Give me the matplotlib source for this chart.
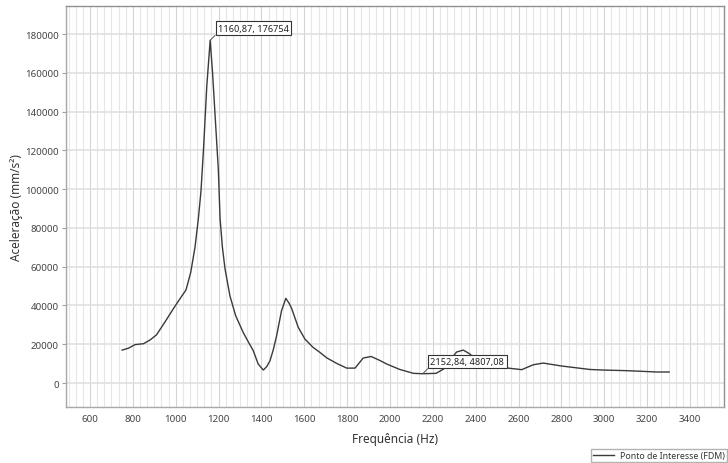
import matplotlib
matplotlib.use("Agg")
import matplotlib.pyplot as plt
from matplotlib.ticker import MultipleLocator
from matplotlib.lines import Line2D

plt.rcParams['font.family'] = ['Noto Sans', 'DejaVu Sans']

freq = [750, 780, 810, 850, 880, 910, 950, 990, 1020, 1048, 1070, 1090, 1105,
        1118, 1130, 1145, 1160.87, 1172, 1183, 1199, 1207, 1218, 1230, 1253,
        1280, 1315, 1340, 1362, 1385, 1409, 1425, 1440, 1455, 1471, 1494, 1514,
        1530, 1541, 1572, 1603, 1640, 1673, 1705, 1750, 1798, 1837, 1875, 1912,
        1950, 1985, 2046, 2110, 2152.84, 2215, 2250, 2285, 2311, 2342, 2373,
        2400, 2450, 2520, 2615, 2668, 2715, 2800, 2933, 2995, 3100, 3166, 3244,
        3303]
accel = [17000, 18000, 19800, 20300, 22200, 24800, 31500, 38500, 43500, 48000,
         57000, 70000, 84000, 99000, 121000, 153000, 176754, 160000, 139600,
         110000, 85000, 70000, 59000, 45000, 34700, 26100, 21000, 16700, 9800,
         6700, 8500, 11500, 17000, 24400, 37300, 43700, 41000, 38500, 28700,
         22700, 18500, 15800, 13000, 10200, 7700, 7700, 12900, 13700, 11800,
         9800, 7000, 5000, 4807.08, 5000, 7200, 12500, 16000, 17000, 15000,
         12000, 9500, 8100, 6900, 9400, 10300, 8800, 7000, 6700, 6400, 6100,
         5700, 5700]

annot_x = [1160.87, 2152.84]
annot_y = [176754, 4807.08]
annot_text = ["1160,87, 176754", "2152,84, 4807,08"]

series_name = "Ponto de Interesse (FDM)"
xlabel = "Frequência (Hz)"
ylabel = "Aceleração (mm/s²)"

fig = plt.figure(figsize=(7.28, 4.64), dpi=100)
ax = fig.add_axes([66/728, 1-407.7/464, (724-66)/728, (407.7-7.3)/464])

ax.plot(freq, accel, color='#3a3a3a', lw=1.0, zorder=3)

ax.set_xlim(488, 3559)
ax.set_ylim(-12200, 194300)
ax.xaxis.set_major_locator(MultipleLocator(200))
ax.xaxis.set_minor_locator(MultipleLocator(200/6))
ax.yaxis.set_major_locator(MultipleLocator(20000))
ax.set_xticks(range(600, 3401, 200))

ax.grid(True, which='major', axis='x', color='#d4d4d4', lw=0.8, zorder=0)
ax.grid(True, which='minor', axis='x', color='#e6e6e6', lw=0.8, zorder=0)
ax.grid(True, which='major', axis='y', color='#e0e0e0', lw=1.2, zorder=0)
ax.set_axisbelow(True)

ax.tick_params(axis='x', which='both', length=0, pad=5, labelsize=7, labelcolor='#444444')
ax.tick_params(axis='y', which='major', length=3, width=0.8, color='#a0a0a0', pad=2,
               labelsize=7, labelcolor='#444444')
ax.tick_params(axis='y', which='minor', length=0)

for s in ax.spines.values():
    s.set_color('#a8a8a8')
    s.set_linewidth(1.0)
ax.spines['top'].set_color('#909090')
ax.spines['right'].set_color('#909090')

ax.set_xlabel(xlabel, fontsize=8.5, color='#333333', labelpad=7)
ax.set_ylabel(ylabel, fontsize=8.5, color='#333333', labelpad=1.5)

for x, y, t in zip(annot_x, annot_y, annot_text):
    ax.annotate(t, xy=(x, y), xytext=(5.5, 5.5), textcoords='offset points',
                ha='left', va='bottom', fontsize=6.6, color='#222222',
                bbox=dict(boxstyle='square,pad=0.25', fc='white', ec='#333333', lw=0.8),
                arrowprops=dict(arrowstyle='-', color='#555555', lw=0.7,
                                shrinkA=0, shrinkB=0, relpos=(0, 0)),
                zorder=5)

handle = Line2D([], [], color='#3a3a3a', lw=1.0)
fig.legend([handle], [series_name], loc='lower right',
           bbox_to_anchor=(726.7/728, 0.6/464), fontsize=6.3,
           frameon=True, fancybox=False, edgecolor='#a0a0a0',
           handlelength=2.4, handletextpad=0.6, borderpad=0.25,
           labelcolor='#333333', borderaxespad=0)

fig.savefig("out.png", dpi=100)
